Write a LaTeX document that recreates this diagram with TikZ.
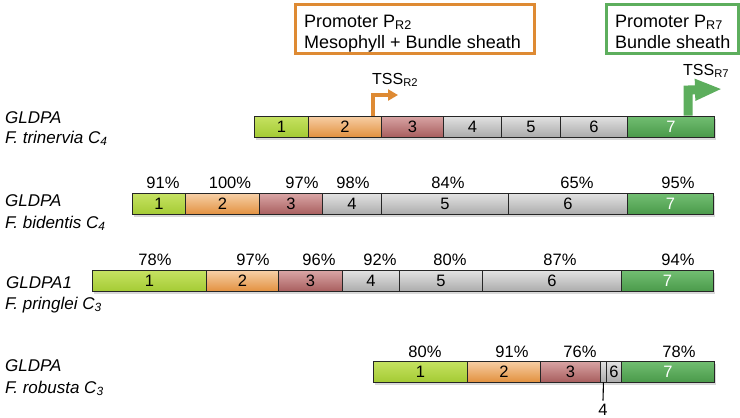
\documentclass[tikz,border=0pt]{standalone}
\usepackage{fontspec}
\setmainfont{Liberation Sans}
\usetikzlibrary{arrows.meta}
\definecolor{limeT}{HTML}{C6E262}
\definecolor{limeB}{HTML}{A4CB34}
\definecolor{oraT}{HTML}{F7CFA6}
\definecolor{oraB}{HTML}{E2913F}
\definecolor{redT}{HTML}{D9A5A5}
\definecolor{redB}{HTML}{A85E5E}
\definecolor{greyT}{HTML}{E2E2E2}
\definecolor{greyB}{HTML}{ABABAB}
\definecolor{grnT}{HTML}{72BE72}
\definecolor{grnB}{HTML}{4A9A4A}
\definecolor{promoOra}{HTML}{DE8A33}
\definecolor{promoGrn}{HTML}{5DAE5D}
\newcommand\genebar[3]{%
  \foreach \xa/\xb/\st/\lab [count=\i] in {#3} {%
    \node[seg,\st,minimum width={\xb-\xa},anchor=west] (#1s\i) at (\xa,#2) {\lab};
  }}
\begin{document}
\begin{tikzpicture}[x=1pt,y=-1pt,
  seg/.style={draw=black!85,line width=0.9pt,minimum height=21pt,inner sep=0pt,
    font=\fontsize{16.5}{19}\selectfont},
  e1/.style={top color=limeT,bottom color=limeB},
  e2/.style={top color=oraT,bottom color=oraB},
  e3/.style={top color=redT,bottom color=redB},
  e4/.style={top color=greyT,bottom color=greyB},
  e7/.style={top color=grnT,bottom color=grnB,text=white},
  pct/.style={font=\fontsize{16.5}{19}\selectfont,inner sep=0pt},
  gene/.style={font=\fontsize{17}{20}\selectfont\itshape,anchor=base west,inner sep=0pt},
  promo/.style={line width=2.5pt,anchor=north west,inner sep=0pt,minimum height=49pt},
  promotext/.style={font=\fontsize{18}{21}\selectfont,anchor=base west,inner sep=0pt},
  tsstext/.style={font=\fontsize{16}{19}\selectfont,anchor=base west,inner sep=0pt},
  barshadow/.style={fill=black,opacity=0.15},
  tick/.style={line width=1.1pt,draw=black}]
\useasboundingbox[fill=white] (0,0) rectangle (740,418);

% promoter boxes
\node[promo,draw=promoOra,minimum width=239pt] (boxR2) at (294,3) {};
\node[promotext] (boxR2a) at (304,27) {Promoter P\textsubscript{R2}};
\node[promotext] (boxR2b) at (304,48) {Mesophyll + Bundle sheath};
\node[promo,draw=promoGrn,minimum width=132pt] (boxR7) at (605,3) {};
\node[promotext] (boxR7a) at (615,27) {Promoter P\textsubscript{R7}};
\node[promotext] (boxR7b) at (615,48) {Bundle sheath};

% shadows
\fill[barshadow] (255.5,118.5) rectangle (716,139.5);
\fill[barshadow] (133.5,196) rectangle (715,217);
\fill[barshadow] (93.5,273) rectangle (715,294);
\fill[barshadow] (374.5,363.5) rectangle (716,384.5);

% row 1
\node[gene] (g1a) at (5,123) {GLDPA};
\node[gene] (g1b) at (5,143) {F. trinervia C\textsubscript{4}};
\genebar{r1}{126.5}{254/308/e1/1,308/381/e2/2,381/443/e3/3,443/501/e4/4,501/560/e4/5,560/627/e4/6,627/714/e7/7}

% TSS arrows
\coordinate (t2corner) at (373,95);
\coordinate (t2tip) at (398,95);
\draw[promoOra,line width=4.5pt,line join=miter,-{Triangle[length=10pt,width=11pt]}]
  (t2corner |- r1s2.north) -- (t2corner) -- (t2tip);
\node[tsstext] (tss2) at (372,84) {TSS\textsubscript{R2}};
\coordinate (t7corner) at (688,90);
\coordinate (t7tip) at (722,89);
\draw[promoGrn,line width=9pt,line join=miter,-{Triangle[length=27pt,width=20pt]}]
  (t7corner |- r1s7.north) -- (t7corner) -- (t7tip);
\node[tsstext] (tss7) at (683,75) {TSS\textsubscript{R7}};

% row 2
\node[gene] (g2a) at (5,206) {GLDPA};
\node[gene] (g2b) at (5,228) {F. bidentis C\textsubscript{4}};
\genebar{r2}{204}{132/185/e1/1,185/259/e2/2,259/322/e3/3,322/381/e4/4,381/508/e4/5,508/627/e4/6,627/713/e7/7}
\foreach \px/\pv [count=\j] in {163/91\%,230/100\%,302/97\%,353/98\%,448/84\%,577/65\%,678/95\%}
  \node[pct] (p2\j) at (\px,183) {\pv};

% row 3
\node[gene] (g3a) at (6,288) {GLDPA1};
\node[gene] (g3b) at (5,309) {F. pringlei C\textsubscript{3}};
\genebar{r3}{281}{92/206/e1/1,206/278/e2/2,278/342/e3/3,342/399/e4/4,399/482/e4/5,482/621/e4/6,621/713/e7/7}
\foreach \px/\pv [count=\j] in {155/78\%,253/97\%,319/96\%,380/92\%,450/80\%,560/87\%,678/94\%}
  \node[pct] (p3\j) at (\px,260) {\pv};

% row 4
\node[gene] (g4a) at (5,371) {GLDPA};
\node[gene] (g4b) at (5,393) {F. robusta C\textsubscript{3}};
\genebar{r4}{371.5}{373/467/e1/1,467/540/e2/2,540/600/e3/3,600/606/e4/{},606/621/e4/6,621/714/e7/7}
\foreach \px/\pv [count=\j] in {425/80\%,512/91\%,580/76\%,679/78\%}
  \node[pct] (p4\j) at (\px,352) {\pv};
\node[pct,inner sep=3pt] (lab4) at (603,409.5) {4};
\draw[tick] (r4s4.south) -- (lab4.north);
\end{tikzpicture}
\end{document}
